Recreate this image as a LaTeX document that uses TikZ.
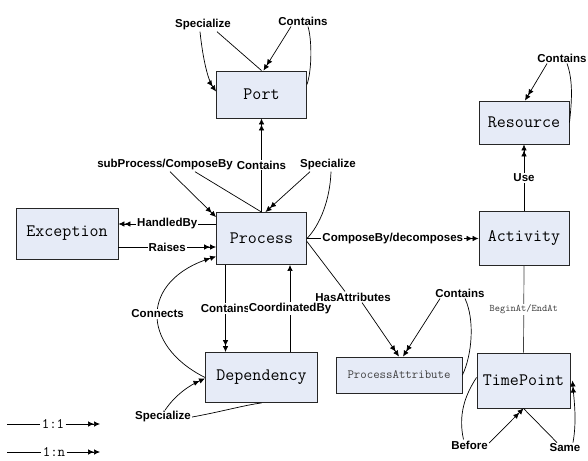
\documentclass[tikz,border=0pt]{standalone}
\usepackage{fontspec}
\setmainfont{Liberation Sans}
\usetikzlibrary{arrows.meta}
\definecolor{boxfill}{RGB}{230,235,247}
\begin{document}
\begin{tikzpicture}[x=1pt,y=-1pt,line width=0.7pt,
 box/.style={draw=black!85, line width=0.9pt, fill=boxfill, inner sep=0pt,
   font=\ttfamily\fontsize{17.5}{18}\selectfont},
 lbl/.style={font=\bfseries\fontsize{11.5}{12}\selectfont, inner sep=1pt, fill=white},
 dbl/.style={-{Latex[length=6pt,width=5.5pt]Latex[length=6pt,width=5.5pt]}},
 sgl/.style={-{Latex[length=6pt,width=5.5pt]}},
 leg/.style={font=\ttfamily\fontsize{14.5}{15}\selectfont, inner sep=1pt}]
\useasboundingbox (0,0) rectangle (588,460);

% boxes
\node[box, minimum width=90pt, minimum height=47pt] (port) at (261.5,94.5) {Port};
\node[box, minimum width=90pt, minimum height=52pt] (process) at (261.5,238.5) {Process};
\node[box, minimum width=102pt, minimum height=51pt] (exception) at (67,233.5) {Exception};
\node[box, minimum width=112pt, minimum height=50pt] (dependency) at (261.5,377.5) {Dependency};
\node[box, minimum width=126pt, minimum height=36pt, text=black!75,
  font=\ttfamily\fontsize{12.5}{13}\selectfont] (procattr) at (399,375) {ProcessAttribute};
\node[box, minimum width=93pt, minimum height=55pt] (timepoint) at (523.5,380.5) {TimePoint};
\node[box, minimum width=90pt, minimum height=54pt] (activity) at (524,238.5) {Activity};
\node[box, minimum width=90pt, minimum height=43pt] (resource) at (524,122.5) {Resource};

% Port self relations
\node[lbl] (pspec) at (203,25) {Specialize};
\node[lbl] (pcont) at (303,21) {Contains};
\draw[dbl] ([xshift=-3pt]pspec.south) .. controls (203,60) and (208,80) .. ([yshift=3pt]port.west);
\draw ([xshift=14pt]pspec.south) -- (port.north);
\draw[dbl] ([xshift=-12pt]pcont.south) -- ([xshift=2pt]port.north);
\draw ([xshift=5pt]pcont.south) .. controls (312,40) and (312,70) .. ([yshift=10pt]port.east);

% Process - Port
\draw[dbl] (process.north) -- (port.south) node[lbl, midway] (pccont) {Contains};

% Process self relations
\node[lbl] (prspec) at (328,165) {Specialize};
\node[lbl] (sub) at (165,165) {subProcess/ComposeBy};
\draw[dbl] ([xshift=-18pt]prspec.south) -- ([xshift=4pt]process.north);
\draw ([xshift=3pt]prspec.south) .. controls (330,200) and (320,225) .. (process.east);
\draw[dbl] ([xshift=5pt]sub.south) -- ([yshift=-5pt]process.north west);
\draw ([xshift=30pt]sub.south) -- (process.north);

% Exception
\draw[dbl] ([yshift=14.5pt]process.west) -- ([yshift=9.5pt]exception.east)
  node[lbl, midway] (handled) {HandledBy};
\draw[dbl] ([yshift=-13.5pt]exception.east) -- ([yshift=-8.5pt]process.west)
  node[lbl, midway] (raises) {Raises};

% Dependency
\draw[dbl] (dependency.west) .. controls (140,345) and (140,280) .. ([yshift=-18pt]process.west)
  node[lbl, pos=0.5] (connects) {Connects};
\draw[dbl] ([xshift=-36pt]process.south) -- ([xshift=-36pt]dependency.north)
  node[lbl, midway] (dcont) {Contains};
\draw[sgl] ([xshift=28.5pt]dependency.north) -- ([xshift=28.5pt]process.south)
  node[lbl, midway] (coord) {CoordinatedBy};
\node[lbl] (dspec) at (163,417) {Specialize};
\draw (dspec.east) .. controls (220,412) and (245,405) .. (dependency.south);
\draw[dbl] ([xshift=2pt]dspec.north) .. controls (175,395) and (190,385) .. ([yshift=-1pt]dependency.west);

% Activity
\draw[dbl] (process.east) -- (process.east -| activity.west)
  node[lbl, midway] (compose) {ComposeBy/decomposes};

% ProcessAttribute
\node[lbl] (hasatt) at (353,297) {HasAttributes};
\draw ([yshift=-3pt]process.east) -- ([xshift=-8pt]hasatt.north);
\draw[dbl] ([xshift=9pt]hasatt.south) -- (procattr.north);
\node[lbl] (pacont) at (460,293) {Contains};
\draw[dbl] ([xshift=-20pt]pacont.south) -- ([xshift=4pt]procattr.north);
\draw ([xshift=5pt]pacont.south) .. controls (475,320) and (472,355) .. (procattr.east);

% Activity - TimePoint
\draw[black!75] (activity.south) -- (timepoint.north)
  node[midway, fill=white, inner sep=1pt, text=black!75,
       font=\ttfamily\fontsize{10}{11}\selectfont] (begin) {BeginAt/EndAt};

% Activity - Resource
\draw[dbl] (activity.north) -- (resource.south) node[lbl, midway] (use) {Use};
\node[lbl] (rcont) at (562,58) {Contains};
\draw[dbl] ([xshift=-15pt]rcont.south) -- ([xshift=1pt]resource.north);
\draw ([xshift=5pt]rcont.south) .. controls (573,80) and (572,100) .. (resource.east);

% TimePoint self relations
\node[lbl] (before) at (469.5,445) {Before};
\node[lbl] (same) at (565,448) {Same};
\draw ([xshift=-6pt]before.north) .. controls (458,415) and (465,395) .. ([yshift=3pt]timepoint.west);
\draw[dbl] ([yshift=2pt]before.east) -- (timepoint.south);
\draw ([xshift=-8pt]same.north) -- (timepoint.south);
\draw[dbl] ([xshift=8pt]same.north) .. controls (577,420) and (574,400) .. ([xshift=2pt]timepoint.east);

% legend
\coordinate (l1a) at (7,424);
\node[leg] (l1) at (53,424) {1:1};
\coordinate (l1b) at (100,424);
\draw (l1a) -- (l1);
\draw[dbl] (l1) -- (l1b);
\coordinate (l2a) at (7,452);
\node[leg] (l2) at (54,452) {1:n};
\coordinate (l2b) at (100,452);
\draw (l2a) -- (l2);
\draw[dbl] (l2) -- (l2b);
\end{tikzpicture}
\end{document}
